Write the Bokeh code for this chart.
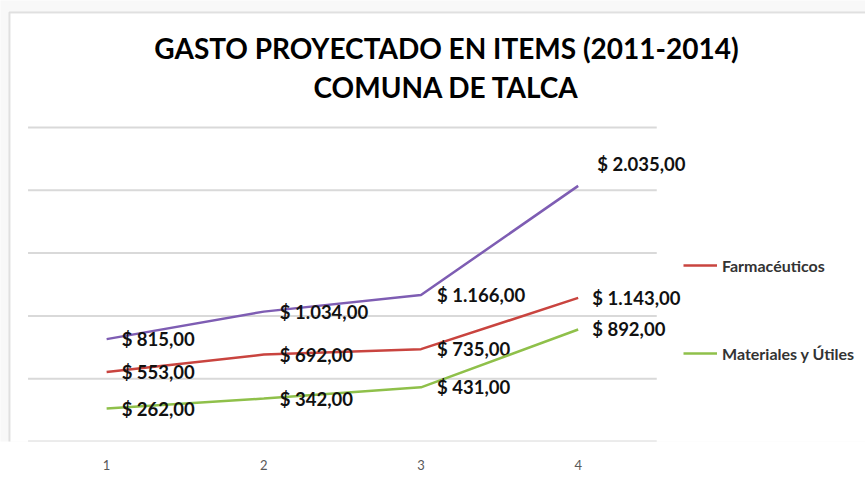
from bokeh.plotting import figure
from bokeh.models import (ColumnDataSource, FixedTicker, Legend, LegendItem,
                          Label, BoxAnnotation, Range1d)
from bokeh.core.properties import value
from bokeh.embed import file_html
from bokeh.resources import INLINE

# ---- data ----
x_values = [1, 2, 3, 4]
x_tick_labels = ["1", "2", "3", "4"]
total = [815, 1034, 1166, 2035]
farmaceuticos = [553, 692, 735, 1143]
materiales = [262, 342, 431, 892]
y_grid_values = [0, 500, 1000, 1500, 2000, 2500]
series_names = ["Total", "Farmacéuticos", "Materiales y Útiles"]
title_line1 = "GASTO PROYECTADO EN ITEMS (2011-2014)"
title_line2 = "COMUNA DE TALCA"


def fmt(v):
    s = f"{v:,.2f}"
    s = s.replace(",", "X").replace(".", ",").replace("X", ".")
    return "$ " + s


FONT = "Lato"
colors = ["#7E5DB3", "#C9443F", "#8FC04A"]

# category band of the plot area runs from 0.5 to 4.5
x_lo, x_hi = 0.5, 4.5

p = figure(width=865, height=479, output_backend="svg", toolbar_location=None,
           x_range=Range1d(0.3248, 5.828), y_range=Range1d(0, 3511),
           y_axis_location=None,
           min_border_left=0, min_border_right=0,
           min_border_top=0, min_border_bottom=38)

p.outline_line_color = None
p.background_fill_color = "#F8F8F8"
p.border_fill_color = "white"
p.grid.visible = False

# chart-area box (white with gray border)
p.add_layout(BoxAnnotation(left=9, right=2000, top=429, bottom=-2000,
                           left_units="screen", right_units="screen",
                           top_units="screen", bottom_units="screen",
                           fill_color="white", fill_alpha=1,
                           line_color="#A0A0A0", line_width=2,
                           level="underlay"))

# horizontal gridlines across the category band
p.segment(x0=[x_lo] * len(y_grid_values), x1=[x_hi] * len(y_grid_values),
          y0=y_grid_values, y1=y_grid_values,
          line_color="#D9D9D9", line_width=2)

xa = p.xaxis[0]
xa.ticker = FixedTicker(ticks=x_values)
xa.major_label_overrides = {x: lbl for x, lbl in zip(x_values, x_tick_labels)}
xa.axis_line_color = None
xa.major_tick_line_color = None
xa.minor_tick_line_color = None
xa.major_tick_out = 0
xa.major_tick_in = 0
xa.major_label_standoff = 18
xa.major_label_text_font = FONT
xa.major_label_text_font_size = "13px"
xa.major_label_text_color = "#595959"

renderers = []
for name, vals, col in zip(series_names, [total, farmaceuticos, materiales], colors):
    r = p.line(x_values, vals, line_color=col, line_width=2.5)
    renderers.append(r)
    labels = [fmt(v) for v in vals]
    x_off = [15, 16, 16, 14]
    y_off = [0, 0, 0, 0]
    if name == "Total":
        x_off = [15, 16, 16, 19]
        y_off = [0, 0, 0, -22]
    src = ColumnDataSource(dict(x=x_values, y=vals, t=labels, xo=x_off, yo=y_off))
    p.text(x="x", y="y", text="t", source=src, x_offset="xo", y_offset="yo",
           text_baseline="middle", text_align="left",
           text_font=value(FONT), text_font_style="bold",
           text_font_size="18.5px", text_color="#111111")

legend = Legend(items=[LegendItem(label=series_names[1], renderers=[renderers[1]]),
                       LegendItem(label=series_names[2], renderers=[renderers[2]])],
                location=(683, 78), orientation="vertical",
                padding=0, margin=0, spacing=68,
                label_height=20, glyph_height=20, glyph_width=34,
                label_standoff=5,
                label_text_font=FONT, label_text_font_style="bold",
                label_text_font_size="16px", label_text_color="#333333",
                border_line_color=None, background_fill_alpha=0)
p.add_layout(legend, "center")

for txt, yy in [(title_line1, 394), (title_line2, 355)]:
    p.add_layout(Label(x=446, y=yy, x_units="screen", y_units="screen", text=txt,
                       text_align="center", text_baseline="middle",
                       text_font=FONT, text_font_style="bold",
                       text_font_size="28px", text_color="#000000"))

open("out.html", "w").write(file_html(p, INLINE))
